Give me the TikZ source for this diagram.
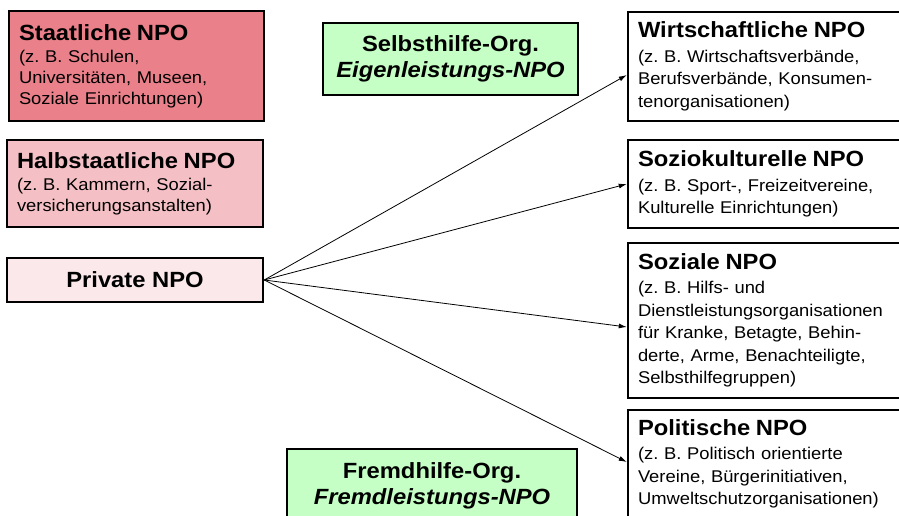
\documentclass[tikz,border=0pt]{standalone}
\usepackage{fontspec}
\setmainfont{Liberation Sans}[FakeStretch=1.08]
\usetikzlibrary{arrows.meta}

\definecolor{staatrot}{RGB}{233,128,138}
\definecolor{halbrosa}{RGB}{245,192,197}
\definecolor{privrosa}{RGB}{251,232,234}
\definecolor{hilfgruen}{RGB}{197,255,197}

\tikzset{
  box/.style={draw=black, line width=2.5pt, rectangle, inner xsep=10pt, inner ysep=0pt,
    align=left, font=\fontsize{17}{21}\selectfont},
  rbox/.style={box, font=\fontsize{17}{22.5}\selectfont, text width=254pt, minimum height=#1},
  hilfe/.style={draw=black, line width=2.5pt, fill=hilfgruen, align=center,
    font=\fontsize{22}{26}\selectfont\bfseries},
  pfeil/.style={line width=0.8pt, -{Latex[length=8pt,width=5pt]}}
}
\newcommand{\titel}[1]{{\fontsize{22}{22}\selectfont\bfseries #1}}

\begin{document}
\frenchspacing
\begin{tikzpicture}[x=1pt, y=-1pt]
\useasboundingbox (0,0) rectangle (899,516);

% linke Seite
\node[box, fill=staatrot, text width=235pt, minimum height=110pt] (staat) at (136.5,66)
  {\titel{Staatliche NPO}\\[1pt] (z. B. Schulen,\\ Universitäten, Museen,\\ Soziale Einrichtungen)};
\node[box, fill=halbrosa, text width=236pt, minimum height=87pt] (halb) at (135,183.5)
  {\titel{Halbstaatliche NPO}\\[1pt] (z. B. Kammern, Sozial-\\ versicherungsanstalten)};
\node[box, fill=privrosa, minimum width=256pt, minimum height=44pt, align=center,
  font=\fontsize{22}{22}\selectfont\bfseries] (priv) at (135,280) {Private NPO};

% Mitte
\node[hilfe, minimum width=255pt, minimum height=72pt] (selbst) at (450.5,59)
  {Selbsthilfe-Org.\\ \textit{Eigenleistungs-NPO}};
\node[hilfe, minimum width=290pt, minimum height=74pt] (fremd) at (432,486)
  {Fremdhilfe-Org.\\ \textit{Fremdleistungs-NPO}};

% rechte Seite
\node[rbox=109pt] (wirt) at (765,66.5)
  {\titel{Wirtschaftliche NPO}\\[2pt] (z. B. Wirtschaftsverbände,\\ Berufsverbände, Konsumen-\\ tenorganisationen)};
\node[rbox=88pt] (kult) at (765,184)
  {\titel{Soziokulturelle NPO}\\[2pt] (z. B. Sport-, Freizeitvereine,\\ Kulturelle Einrichtungen)};
\node[rbox=155pt] (sozial) at (765,320.5)
  {\titel{Soziale NPO}\\[2pt] (z. B. Hilfs- und\\ Dienstleistungsorganisationen\\ für Kranke, Betagte, Behin-\\ derte, Arme, Benachteiligte,\\ Selbsthilfegruppen)};
\node[rbox=108pt] (polit) at (765,464)
  {\titel{Politische NPO}\\[2pt] (z. B. Politisch orientierte\\ Vereine, Bürgerinitiativen,\\ Umweltschutzorganisationen)};

% Pfeile
\draw[pfeil] (priv.east) -- ([yshift=-8.5pt]wirt.west);
\draw[pfeil] (priv.east) -- (kult.west);
\draw[pfeil] (priv.east) -- ([yshift=-6.5pt]sozial.west);
\draw[pfeil] (priv.east) -- ([yshift=2pt]polit.west);
\end{tikzpicture}
\end{document}
